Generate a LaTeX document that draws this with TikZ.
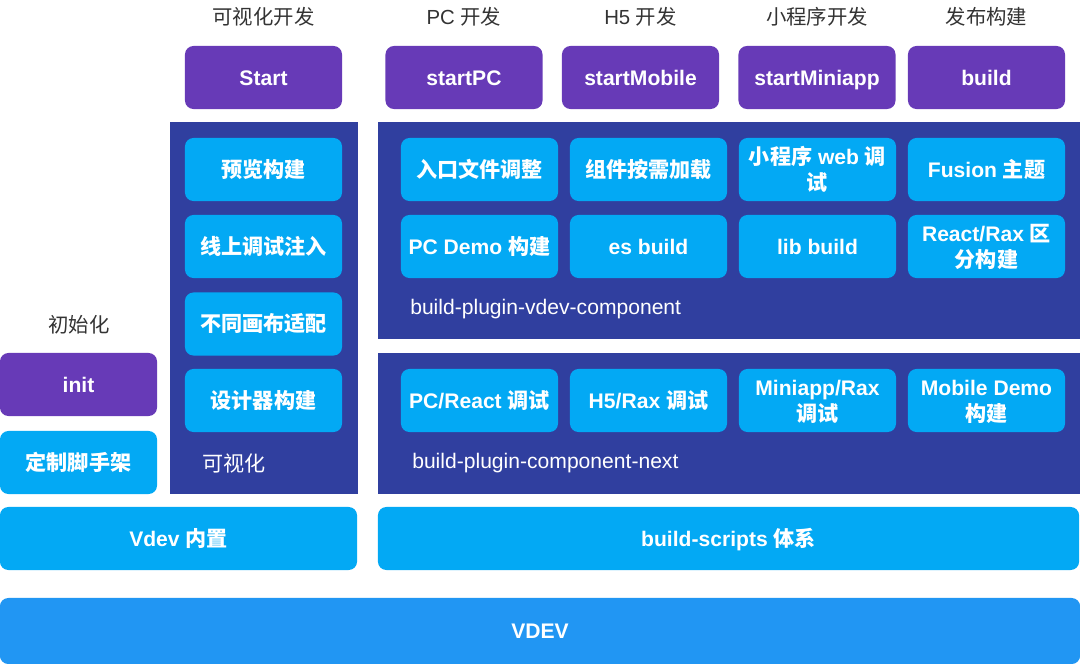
\documentclass[tikz,border=0pt]{standalone}
\usepackage{fontspec}
\setmainfont{Liberation Sans}
\newfontfamily\zhfont{Noto Sans CJK SC}
\newcommand{\zh}[1]{{\zhfont#1}}
\definecolor{ink}{HTML}{333333}
\definecolor{cmdpurple}{HTML}{673AB7}
\definecolor{navy}{HTML}{303F9F}
\definecolor{feat}{HTML}{03A9F4}
\definecolor{basebl}{HTML}{2196F3}
\tikzset{
  every node/.style={inner sep=0pt,text=white,align=center},
  tile/.style={rounded corners=6pt,minimum width=3.925cm,minimum height=1.575cm,
               text height=12pt,text depth=1pt,
               font=\fontsize{15}{18.5}\selectfont\bfseries},
  oneln/.style={},
  twoln/.style={text height=30.5pt},   % baseline sits on the last line
  cmdtile/.style={tile,fill=cmdpurple},
  feattile/.style={tile,fill=feat},
  panel/.style={fill=navy},
  heading/.style={font=\fontsize{14.5}{17}\selectfont,text=ink},
  tag/.style={font=\fontsize{15}{18}\selectfont,anchor=west},
}

\begin{document}
\begin{tikzpicture}[x=.025cm,y=-.025cm]   % one unit = one pixel of the source
\path[use as bounding box] (0,0) rectangle (1080,664);

% backing panels
\fill[panel] (170,122) rectangle (358,494);
\fill[panel] (378,122) rectangle (1080,339);
\fill[panel] (378,353) rectangle (1080,494);

% commands on top, each under its heading
\foreach \x/\hd/\cm [count=\i] in {263.5/{\zh{可视化开发}}/Start, 464/{PC \zh{开发}}/startPC,
    640.5/{H5 \zh{开发}}/startMobile, 817/{\zh{小程序开发}}/startMiniapp, 986.5/{\zh{发布构建}}/build}{
  \node[heading] (hd\i) at (\x,17) {\hd};
  \node[cmdtile] (cmd\i) at (\x,77.5) {\cm};
}

% visual column
\foreach \y/\t [count=\i] in {169.5/预览构建, 246.5/线上调试注入, 324/不同画布适配, 400.5/设计器构建}
  \node[feattile] (vis\i) at (263.5,\y) {\zh{\t}};
\node[tag] (vislab) at (202,463) {\zh{可视化}};

% build-plugin-vdev-component: two rows
\foreach \x/\y/\s/\t [count=\i] in {
    479.5/169.5/oneln/{\zh{入口文件调整}},
    648.5/169.5/oneln/{\zh{组件按需加载}},
    817.5/169.5/twoln/{\zh{小程序} web \zh{调}\\\zh{试}},
    986.5/169.5/oneln/{Fusion \zh{主题}},
    479.5/246.5/oneln/{PC Demo \zh{构建}},
    648.5/246.5/oneln/{es build},
    817.5/246.5/oneln/{lib build},
    986.5/246.5/twoln/{React/Rax \zh{区}\\\zh{分构建}}}
  \node[feattile,\s] (vc\i) at (\x,\y) {\t};
\node[tag] (vclab) at (410,309) {build-plugin-vdev-component};

% build-plugin-component-next: one row
\foreach \x/\s/\t [count=\i] in {479.5/oneln/{PC/React \zh{调试}}, 648.5/oneln/{H5/Rax \zh{调试}},
    817.5/twoln/{Miniapp/Rax\\\zh{调试}}, 986.5/twoln/{Mobile Demo\\\zh{构建}}}
  \node[feattile,\s] (cn\i) at (\x,400.5) {\t};
\node[tag] (cnlab) at (412,463) {build-plugin-component-next};

% init on the left
\node[heading] (initlab) at (79,325) {\zh{初始化}};
\node[cmdtile] (init) at (78.5,384.5) {init};
\node[feattile] (scaffold) at (78.5,462.5) {\zh{定制脚手架}};

% base layers
\node[feattile,minimum width=8.925cm] (builtin) at (178.5,538.5) {Vdev \zh{内置}};
\node[feattile,minimum width=17.525cm] (scripts) at (728.5,538.5) {build-scripts \zh{体系}};
\node[tile,fill=basebl,minimum width=27cm,minimum height=1.65cm] (vdev) at (540,631) {VDEV};

\end{tikzpicture}
\end{document}
